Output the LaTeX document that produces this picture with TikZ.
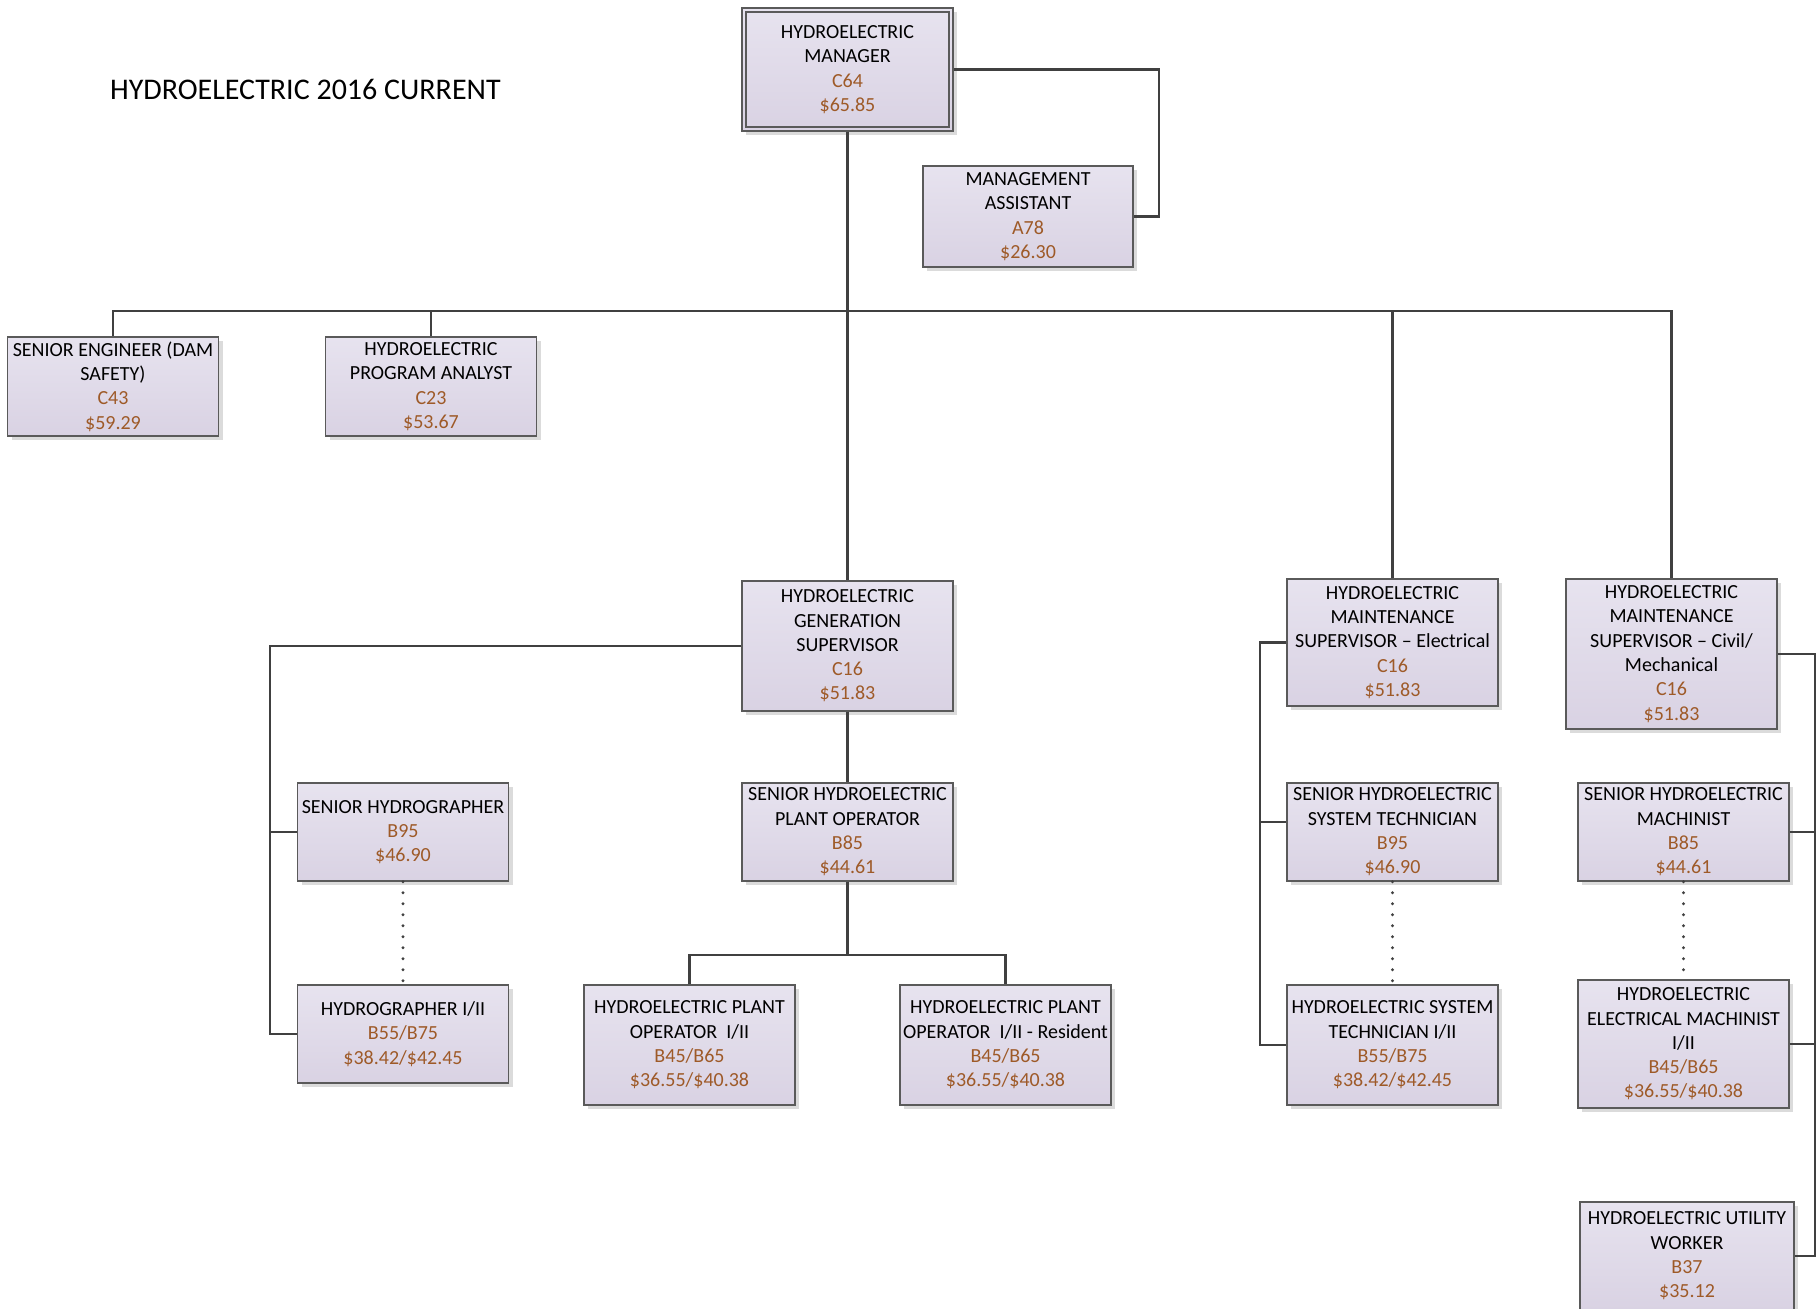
\documentclass[tikz,border=0pt]{standalone}
\usepackage{fontspec}
\setmainfont{Carlito}
\usetikzlibrary{shadows,calc}
\definecolor{codebrown}{HTML}{9E5A28}
\definecolor{boxtop}{HTML}{E7E3EF}
\definecolor{boxbot}{HTML}{D9D2E3}
\definecolor{boxline}{HTML}{5A5A5A}
\definecolor{connline}{HTML}{404040}
\newcommand\cd[1]{\textcolor{codebrown}{#1}}
\begin{document}
\begin{tikzpicture}[x=0.5pt,y=-0.5pt,
  posbox/.style={draw=boxline, line width=0.7pt, top color=boxtop, bottom color=boxbot,
    minimum width=105.5pt, inner sep=0pt, align=center,
    font=\fontsize{10}{12.15}\selectfont,
    drop shadow={shadow xshift=2.2pt, shadow yshift=-2.2pt, fill=black!14, opacity=1}},
  conn/.style={draw=connline, line width=1.35pt},
  dotline/.style={draw=connline, line width=1.6pt, line cap=round, dash pattern=on 0pt off 5.5pt}]
\useasboundingbox (0,0) rectangle (1818,1309);
\begin{scope}
\clip (0,0) rectangle (1818,1309);

\node[anchor=base west, font=\fontsize{15}{18}\selectfont] (title) at (103,100) {HYDROELECTRIC 2016 CURRENT};

\node[posbox, minimum height=61.5pt] (mgr) at (847.5,69.5) {HYDROELECTRIC\\MANAGER\\\cd{C64}\\\cd{\$65.85}};
\draw[boxline, line width=0.7pt] ([shift={(2.3pt,-2.3pt)}]mgr.north west) rectangle ([shift={(-2.3pt,2.3pt)}]mgr.south east);

\node[posbox, minimum width=105pt, minimum height=50.5pt] (ma) at (1028,216.5) {MANAGEMENT\\ASSISTANT\\\cd{A78}\\\cd{\$26.30}};

\node[posbox, minimum height=49.5pt] (se) at (113,386.5) {SENIOR ENGINEER (DAM\\SAFETY)\\\cd{C43}\\\cd{\$59.29}};
\node[posbox, minimum height=49.5pt] (pa) at (431,386.5) {HYDROELECTRIC\\PROGRAM ANALYST\\\cd{C23}\\\cd{\$53.67}};

\node[posbox, minimum height=65pt] (gs) at (847.5,646) {HYDROELECTRIC\\GENERATION\\SUPERVISOR\\\cd{C16}\\\cd{\$51.83}};
\node[posbox, minimum height=63.5pt] (mse) at (1392.5,642.5) {HYDROELECTRIC\\MAINTENANCE\\SUPERVISOR -- Electrical\\\cd{C16}\\\cd{\$51.83}};
\node[posbox, minimum height=75pt] (msc) at (1671.5,654) {HYDROELECTRIC\\MAINTENANCE\\SUPERVISOR -- Civil/\\Mechanical\\\cd{C16}\\\cd{\$51.83}};

\node[posbox, minimum height=49pt] (sh) at (403,832) {SENIOR HYDROGRAPHER\\\cd{B95}\\\cd{\$46.90}};
\node[posbox, minimum height=49pt] (shpo) at (847.5,832) {SENIOR HYDROELECTRIC\\PLANT OPERATOR\\\cd{B85}\\\cd{\$44.61}};
\node[posbox, minimum height=49pt] (shst) at (1392.5,832) {SENIOR HYDROELECTRIC\\SYSTEM TECHNICIAN\\\cd{B95}\\\cd{\$46.90}};
\node[posbox, minimum height=49pt] (shm) at (1683.5,832) {SENIOR HYDROELECTRIC\\MACHINIST\\\cd{B85}\\\cd{\$44.61}};

\node[posbox, minimum height=49pt] (h) at (403,1034) {HYDROGRAPHER I/II\\\cd{B55/B75}\\\cd{\$38.42/\$42.45}};
\node[posbox, minimum height=60pt] (hpo) at (689.5,1045) {HYDROELECTRIC PLANT\\OPERATOR\ \ I/II\\\cd{B45/B65}\\\cd{\$36.55/\$40.38}};
\node[posbox, minimum height=60pt] (hpor) at (1005.5,1045) {HYDROELECTRIC PLANT\\OPERATOR\ \ I/II - Resident\\\cd{B45/B65}\\\cd{\$36.55/\$40.38}};
\node[posbox, minimum height=60pt] (hst) at (1392.5,1045) {HYDROELECTRIC SYSTEM\\TECHNICIAN I/II\\\cd{B55/B75}\\\cd{\$38.42/\$42.45}};
\node[posbox, minimum height=64pt] (hem) at (1683.5,1044) {HYDROELECTRIC\\ELECTRICAL MACHINIST\\I/II\\\cd{B45/B65}\\\cd{\$36.55/\$40.38}};
\node[posbox, minimum width=107pt, minimum height=54pt] (huw) at (1687,1256) {HYDROELECTRIC UTILITY\\WORKER\\\cd{B37}\\\cd{\$35.12}};

% helper coordinates
\coordinate (mabus) at (1159,0);
\coordinate (bus) at (0,311);
\coordinate (gsl) at (270,0);
\coordinate (opbus) at (0,955);
\coordinate (msel) at (1260,0);
\coordinate (mscr) at (1815,0);
\coordinate (shstw) at ([yshift=5pt]shst.west);

% connectors
\draw[conn] (mgr.south) -- (gs.north);
\draw[conn] (mgr.east) -| (mabus |- ma.east) -- (ma.east);
\draw[conn] (se.north) -- (se.north |- bus) -- (msc.north |- bus) -- (msc.north);
\draw[conn] (pa.north) -- (pa.north |- bus);
\draw[conn] (mse.north) -- (mse.north |- bus);

\draw[conn] (gs.west) -| (gsl |- h.west) -- (h.west);
\draw[conn] (sh.west) -- (gsl |- sh.west);
\draw[dotline] (sh.south) -- (h.north);

\draw[conn] (gs.south) -- (shpo.north);
\draw[conn] (shpo.south) -- (shpo.south |- opbus);
\draw[conn] (hpo.north) -- (hpo.north |- opbus) -- (hpor.north |- opbus) -- (hpor.north);

\draw[conn] (mse.west) -| (msel |- hst.west) -- (hst.west);
\draw[conn] (shstw) -- (msel |- shstw);
\draw[dotline] (shst.south) -- (hst.north);

\draw[conn] (msc.east) -| (mscr |- huw.east) -- (huw.east);
\draw[conn] (shm.east) -- (mscr |- shm.east);
\draw[conn] (hem.east) -- (mscr |- hem.east);
\draw[dotline] (shm.south) -- (hem.north);
\end{scope}
\end{tikzpicture}
\end{document}
